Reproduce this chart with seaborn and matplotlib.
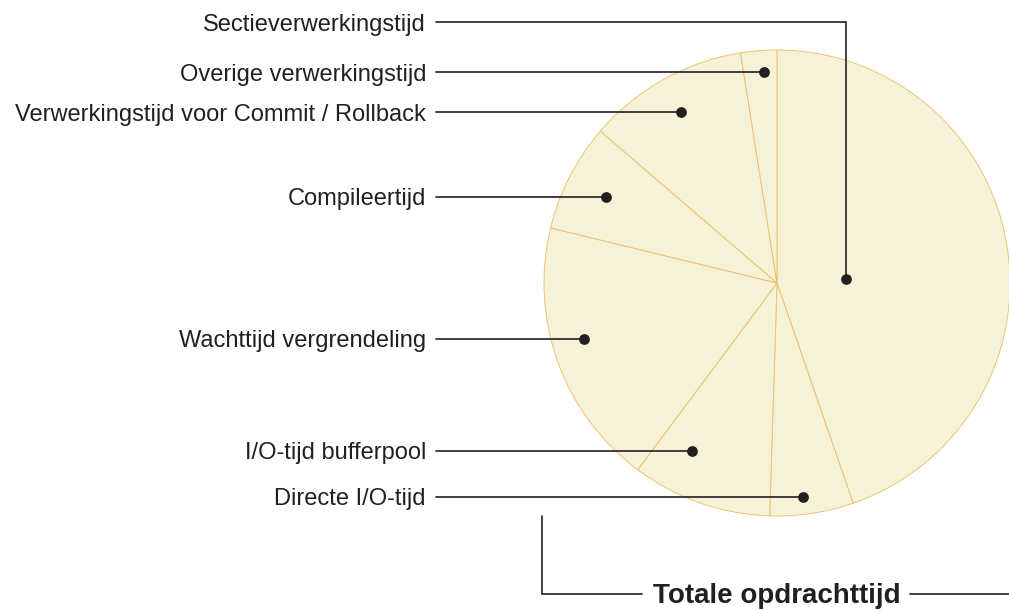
import numpy as np
import matplotlib.pyplot as plt
import seaborn as sns

# Slices in clockwise order starting at 12 o'clock (share of total, %)
labels = [
    "Sectieverwerkingstijd",
    "Directe I/O-tijd",
    "I/O-tijd bufferpool",
    "Wachttijd vergrendeling",
    "Compileertijd",
    "Verwerkingstijd voor Commit / Rollback",
    "Overige verwerkingstijd",
]
shares = [44.7, 5.8, 9.7, 18.6, 7.5, 11.2, 2.5]
total_label = "Totale opdrachttijd"

# Callout layout, in pixels measured from the top-left corner
W, H = 1009, 611
label_rows = [22, 497, 451, 339, 197, 112, 72]
dot_x = [846, 803, 692, 584, 606, 681, 764]
dot_y = [279, 497, 451, 339, 197, 112, 72]

ink = "#231F20"
fill = "#F6F2D7"
edge = "#F0C272"

sns.set_theme(style="white")
plt.rcParams["font.family"] = ["Liberation Sans", "DejaVu Sans"]


def up(y):
    # pixel row -> data y (axis runs bottom-up)
    return H - y


fig = plt.figure(figsize=(W / 100, H / 100), dpi=100)
ax = fig.add_axes([0, 0, 1, 1])

ax.pie(
    shares,
    colors=[fill] * len(shares),
    startangle=90,
    counterclock=False,
    center=(777, up(283)),
    radius=233,
    wedgeprops=dict(edgecolor=edge, linewidth=0.7),
)

# leader lines
for i, name in enumerate(labels):
    row = label_rows[i]
    if i == 0:
        ax.plot([436, dot_x[i], dot_x[i]], [up(row), up(row), up(dot_y[i])],
                color=ink, lw=1.2, solid_joinstyle="miter", zorder=3)
    else:
        ax.plot([436, dot_x[i]], [up(row), up(row)], color=ink, lw=1.2, zorder=3)
    ax.text(426, up(row + 8.5), name, ha="right", va="baseline",
            fontsize=17, color=ink)

sns.scatterplot(x=dot_x, y=[up(v) for v in dot_y], ax=ax, color=ink,
                s=60, linewidth=0, zorder=5, legend=False)

# total bracket
ax.plot([542, 542, 642], [up(516), up(594), up(594)], color=ink, lw=1.2,
        solid_joinstyle="miter")
ax.plot([910, W], [up(594), up(594)], color=ink, lw=1.2)
ax.text(776.5, up(603), total_label, ha="center", va="baseline",
        fontsize=20, fontweight="bold", color=ink)

ax.set_xlim(0, W)
ax.set_ylim(0, H)
ax.set_aspect("equal")
ax.axis("off")

fig.savefig("out.png", dpi=100)
